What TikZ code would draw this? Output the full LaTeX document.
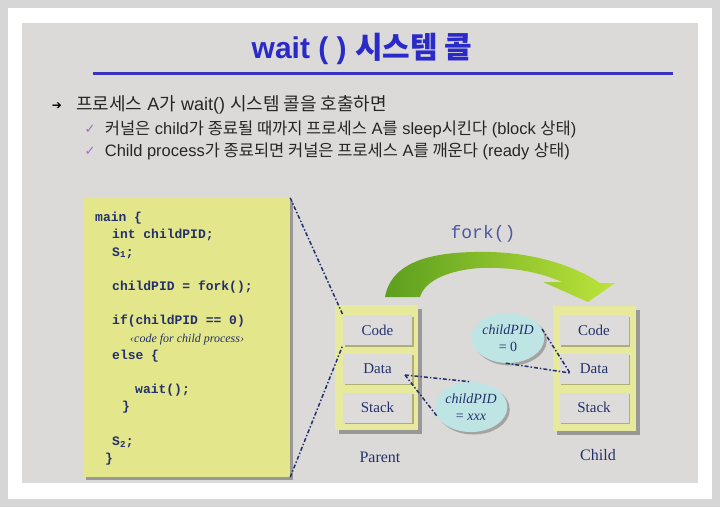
\documentclass[tikz,border=0pt]{standalone}
\usepackage{fontspec}
\setmainfont{Liberation Sans}
\newfontfamily\kr{Noto Sans CJK KR}
\newfontfamily\codefont{Liberation Mono}
\newfontfamily\serif{Liberation Serif}
\newfontfamily\symfont{DejaVu Sans}
\usetikzlibrary{shapes.geometric, shadows, positioning}

\definecolor{framegray}{HTML}{D6D6D6}
\definecolor{slidebg}{HTML}{DCDAD8}
\definecolor{titleblue}{HTML}{2A2AC8}
\definecolor{rulecolor}{HTML}{3A32C0}
\definecolor{codeyellow}{HTML}{E3E68A}
\definecolor{navy}{HTML}{23306E}
\definecolor{boxgray}{HTML}{DEDCDA}
\definecolor{bubblecyan}{HTML}{BEE4E4}
\definecolor{tickpurple}{HTML}{A06CC8}
\definecolor{forkdark}{HTML}{5C9E1E}
\definecolor{forklight}{HTML}{BDE43A}
\definecolor{forktext}{HTML}{4A5AA0}

\tikzstyle{codebox} = [rectangle, fill=codeyellow, minimum width=207pt, minimum height=279pt, drop shadow={shadow xshift=3pt, shadow yshift=-3pt, fill=black, opacity=0.3}]
\tikzstyle{procimage} = [rectangle, fill=codeyellow!85!white, minimum width=83pt, minimum height=125pt, drop shadow={shadow xshift=4pt, shadow yshift=-4pt, fill=black, opacity=0.3}]
\tikzstyle{segment} = [rectangle, fill=boxgray, minimum width=69pt, minimum height=30pt, text=navy, font=\serif\fontsize{15}{18}\selectfont, drop shadow={shadow xshift=1.5pt, shadow yshift=-1.5pt, fill=black, opacity=0.25}]
\tikzstyle{bubble} = [ellipse, fill=bubblecyan, minimum width=64pt, minimum height=50pt, inner sep=0pt, align=center, text=navy, font=\serif\fontsize{14}{17}\selectfont, drop shadow={shadow xshift=2.5pt, shadow yshift=-2.5pt, fill=black, opacity=0.25}]
\tikzstyle{pointer} = [draw=navy, line width=1.5pt, dash pattern=on 4pt off 2pt on 1.5pt off 2pt]
\tikzstyle{caption} = [text=navy, font=\serif\fontsize{16}{19}\selectfont]
\tikzstyle{item} = [anchor=west, inner sep=0pt, text=black!85, font=\fontsize{16.5}{19}\selectfont]
\tikzstyle{tickmark} = [inner sep=0pt, text=tickpurple, font=\symfont\fontsize{13}{15}\selectfont]

\begin{document}
\begin{tikzpicture}[x=1pt, y=-1pt]

\useasboundingbox (0,0) rectangle (720,507);

% Slide frame
\fill[framegray] (0,0) rectangle (720,507);
\fill[white] (8,8) rectangle (712,499);
\fill[slidebg] (22,23) rectangle (698,483);

% Title
\node (title) [text=titleblue, font=\bfseries\fontsize{30}{33}\selectfont] at (362,49) {wait ( ) {\kr 시스템 콜}};
\draw[rulecolor, line width=3.5pt] (93,73.5) -- (673,73.5);

% Bullets
\node (bullet) [inner sep=0pt, font=\symfont\fontsize{12}{14}\selectfont] at (57,106) {➔};
\node (line0) [item, font=\fontsize{18}{21}\selectfont] at (76,105) {{\kr 프로세스} A{\kr 가} wait() {\kr 시스템 콜을 호출하면}};
\node (tick1) [tickmark] at (90,129) {✓};
\node (line1) [item, right=9pt of tick1] {{\kr 커널은} child{\kr 가 종료될 때까지 프로세스} A{\kr 를} sleep{\kr 시킨다} (block {\kr 상태})};
\node (tick2) [tickmark] at (90,151) {✓};
\node (line2) [item, right=9pt of tick2] {Child process{\kr 가 종료되면 커널은 프로세스} A{\kr 를 깨운다} (ready {\kr 상태})};

% Program text
\node (codebox) [codebox] at (186.5,337.5) {};
\node (listing) [anchor=north west, inner sep=0pt, align=left, text=navy, font=\codefont\bfseries\fontsize{13}{17.2}\selectfont] at (95,212) {main \{\\
\hspace*{17pt}int childPID;\\
\hspace*{17pt}S\textsubscript{1};\\[17.2pt]
\hspace*{17pt}childPID = fork();\\[17.2pt]
\hspace*{17pt}if(childPID == 0)\\
\hspace*{35pt}{\serif\mdseries\itshape\fontsize{12}{17.2}\selectfont ‹code for child process›}\\
\hspace*{17pt}else \{\\[17.2pt]
\hspace*{40pt}wait();\\
\hspace*{27pt}\}\\[17.2pt]
\hspace*{17pt}S\textsubscript{2};\\
\hspace*{10pt}\}};

% Parent image
\node (parent) [procimage] at (376.5,367.5) {};
\node (pcode) [segment] at (377.5,330) {Code};
\node (pdata) [segment, below=8.5pt of pcode] {Data};
\node (pstack) [segment, below=8.5pt of pdata] {Stack};
\node (ptext) [caption] at (380,457) {Parent};

% Child image
\node (child) [procimage] at (594,368) {};
\node (ccode) [segment] at (594,330) {Code};
\node (cdata) [segment, below=8.5pt of ccode] {Data};
\node (cstack) [segment, below=8.5pt of cdata] {Stack};
\node (ctext) [caption] at (598,455) {Child};

% fork() arrow
\shade[left color=forkdark, right color=forklight]
  (385,297) .. controls (392,258) and (440,251) .. (490,252)
  .. controls (535,253) and (575,266) .. (600,283)
  -- (615,283) -- (588,302) -- (543,282) -- (562,282)
  .. controls (535,270) and (505,267) .. (480,268)
  .. controls (450,270) and (425,280) .. (420,297) -- cycle;
\node (forklabel) [text=forktext, font=\codefont\fontsize{18}{20}\selectfont] at (483,234) {fork()};

% childPID values
\node (zero) [bubble] at (508,338) {\textit{childPID}\\= 0};
\node (xxx) [bubble] at (471,407) {\textit{childPID}\\= \textit{xxx}};
\coordinate (pdataref) at (405,375);
\coordinate (cdataref) at (570,373);

% Connections
\draw [pointer] (codebox.north east) -- (pcode.north west);
\draw [pointer] (codebox.south east) -- (pcode.south west);
\draw [pointer] (pdataref) -- (xxx.north);
\draw [pointer] (pdataref) -- (xxx.195);
\draw [pointer] (zero.15) -- (cdataref);
\draw [pointer] (zero.265) -- (cdataref);

\end{tikzpicture}
\end{document}
